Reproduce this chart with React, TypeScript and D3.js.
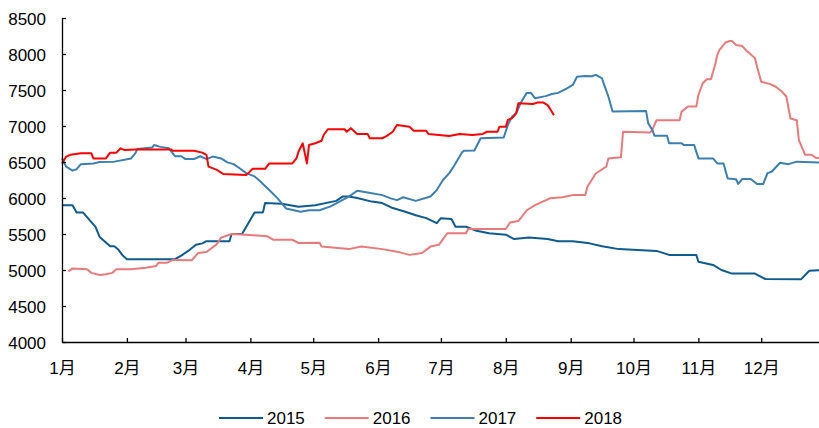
// @ts-nocheck
import React from 'react'
import * as d3 from 'd3'

const monthLabels = ['1月', '2月', '3月', '4月', '5月', '6月', '7月', '8月', '9月', '10月', '11月', '12月']
const yTicks = [4000, 4500, 5000, 5500, 6000, 6500, 7000, 7500, 8000, 8500]
const seriesNames = ['2015', '2016', '2017', '2018']
const seriesColors = ['#0f5b8e', '#e97a7c', '#3c7fb0', '#ff0000']

// [MM-DD, price]
const s2015 = [
  ['01-01', 5900], ['01-06', 5900], ['01-08', 5800], ['01-11', 5800], ['01-14', 5700], ['01-17', 5600],
  ['01-19', 5460], ['01-24', 5330], ['01-26', 5330], ['01-28', 5280], ['01-30', 5200], ['02-01', 5150],
  ['02-24', 5150], ['02-27', 5200], ['03-03', 5280], ['03-06', 5350], ['03-09', 5370], ['03-11', 5400],
  ['03-22', 5400], ['03-23', 5500], ['03-28', 5500], ['03-31', 5650], ['04-03', 5800], ['04-07', 5800],
  ['04-08', 5930], ['04-16', 5920], ['04-24', 5880], ['05-02', 5900], ['05-12', 5960], ['05-15', 6020],
  ['05-18', 6020], ['05-22', 6000], ['05-29', 5950], ['06-03', 5930], ['06-08', 5860], ['06-14', 5810],
  ['06-19', 5760], ['06-24', 5720], ['06-29', 5650], ['07-01', 5720], ['07-06', 5710], ['07-08', 5600],
  ['07-13', 5600], ['07-18', 5545], ['07-24', 5510], ['08-01', 5490], ['08-05', 5430], ['08-12', 5450],
  ['08-21', 5430], ['08-26', 5400], ['09-02', 5400], ['09-10', 5370], ['09-16', 5330], ['09-24', 5290],
  ['10-12', 5265], ['10-18', 5210], ['10-31', 5210], ['11-01', 5115], ['11-08', 5070], ['11-12', 5000],
  ['11-17', 4950], ['11-28', 4950], ['12-03', 4875], ['12-20', 4870], ['12-24', 4990], ['12-31', 5000],
]

const s2016 = [
  ['01-04', 4980], ['01-06', 5020], ['01-13', 5010], ['01-15', 4960], ['01-19', 4930], ['01-22', 4940],
  ['01-25', 4960], ['01-27', 5010], ['02-03', 5010], ['02-10', 5030], ['02-15', 5055], ['02-16', 5100],
  ['02-20', 5100], ['02-23', 5140], ['03-04', 5135], ['03-07', 5235], ['03-11', 5250], ['03-16', 5360],
  ['03-18', 5450], ['03-23', 5500], ['03-30', 5490], ['04-09', 5470], ['04-12', 5420], ['04-21', 5420],
  ['04-24', 5375], ['05-04', 5380], ['05-05', 5325], ['05-18', 5290], ['05-24', 5325], ['06-03', 5290],
  ['06-10', 5255], ['06-16', 5210], ['06-22', 5235], ['06-26', 5325], ['06-30', 5350], ['07-04', 5510],
  ['07-13', 5510], ['07-14', 5570], ['08-01', 5570], ['08-03', 5660], ['08-07', 5680], ['08-11', 5830],
  ['08-15', 5900], ['08-22', 5995], ['08-28', 6010], ['09-02', 6040], ['09-08', 6040], ['09-09', 6160],
  ['09-13', 6340], ['09-18', 6435], ['09-19', 6550], ['09-25', 6565], ['09-26', 6920], ['10-09', 6910],
  ['10-10', 6950], ['10-12', 7080], ['10-23', 7080], ['10-24', 7200], ['10-27', 7270], ['10-31', 7270],
  ['11-01', 7430], ['11-03', 7590], ['11-05', 7650], ['11-07', 7650], ['11-09', 7850], ['11-10', 7985],
  ['11-11', 8055], ['11-14', 8160], ['11-16', 8180], ['11-17', 8180], ['11-19', 8125], ['11-22', 8110],
  ['11-24', 8045], ['11-26', 7995], ['11-28', 7940], ['11-29', 7825], ['12-01', 7615], ['12-05', 7585],
  ['12-08', 7545], ['12-11', 7475], ['12-13', 7410], ['12-15', 7105], ['12-18', 7080], ['12-19', 6805],
  ['12-22', 6600], ['12-25', 6600], ['12-27', 6560], ['12-31', 6550],
]

const s2017 = [
  ['01-01', 6550], ['01-03', 6435], ['01-06', 6380], ['01-08', 6400], ['01-10', 6470], ['01-16', 6480],
  ['01-19', 6500], ['01-26', 6505], ['02-03', 6550], ['02-05', 6620], ['02-06', 6680], ['02-13', 6700],
  ['02-14', 6735], ['02-17', 6710], ['02-21', 6690], ['02-24', 6580], ['02-27', 6580], ['03-01', 6540],
  ['03-05', 6540], ['03-08', 6580], ['03-11', 6540], ['03-14', 6575], ['03-18', 6550], ['03-21', 6495],
  ['03-24', 6470], ['03-27', 6410], ['03-30', 6345], ['04-03', 6300], ['04-05', 6250], ['04-10', 6110],
  ['04-14', 5995], ['04-18', 5855], ['04-25', 5810], ['04-29', 5830], ['05-04', 5830], ['05-09', 5880],
  ['05-12', 5925], ['05-18', 6020], ['05-22', 6100], ['05-27', 6075], ['06-03', 6040], ['06-07', 5995],
  ['06-10', 5970], ['06-13', 6010], ['06-19', 5960], ['06-26', 6020], ['06-29', 6110], ['07-02', 6250],
  ['07-05', 6345], ['07-07', 6435], ['07-09', 6530], ['07-11', 6630], ['07-12', 6657], ['07-17', 6660],
  ['07-20', 6830], ['07-31', 6840], ['08-02', 7015], ['08-04', 7130], ['08-06', 7175], ['08-08', 7315],
  ['08-11', 7460], ['08-13', 7460], ['08-15', 7385], ['08-20', 7415], ['08-23', 7445], ['08-26', 7460],
  ['08-30', 7520], ['09-02', 7570], ['09-04', 7685], ['09-08', 7695], ['09-11', 7690], ['09-13', 7710],
  ['09-16', 7660], ['09-17', 7570], ['09-19', 7410], ['09-21', 7200], ['10-07', 7210], ['10-08', 7040],
  ['10-10', 6945], ['10-11', 6865], ['10-17', 6865], ['10-18', 6760], ['10-24', 6760], ['10-25', 6735],
  ['10-30', 6735], ['11-01', 6550], ['11-08', 6550], ['11-10', 6480], ['11-13', 6480], ['11-15', 6270],
  ['11-19', 6260], ['11-20', 6195], ['11-22', 6265], ['11-26', 6265], ['11-29', 6195], ['12-02', 6195],
  ['12-04', 6345], ['12-06', 6365], ['12-10', 6490], ['12-14', 6470], ['12-18', 6505], ['12-31', 6490],
]

const s2018 = [
  ['01-01', 6480], ['01-03', 6575], ['01-05', 6600], ['01-10', 6620], ['01-15', 6620], ['01-16', 6550],
  ['01-22', 6550], ['01-24', 6630], ['01-27', 6630], ['01-29', 6690], ['01-31', 6665], ['02-05', 6675],
  ['02-22', 6675], ['02-23', 6655], ['03-05', 6655], ['03-09', 6630], ['03-11', 6600], ['03-12', 6435],
  ['03-16', 6390], ['03-19', 6333], ['03-30', 6320], ['03-31', 6345], ['04-02', 6405], ['04-08', 6405],
  ['04-10', 6480], ['04-21', 6480], ['04-23', 6550], ['04-24', 6645], ['04-26', 6760], ['04-27', 6620],
  ['04-28', 6480], ['04-29', 6735], ['05-02', 6760], ['05-05', 6795], ['05-06', 6875], ['05-08', 6955],
  ['05-16', 6955], ['05-17', 6920], ['05-19', 6970], ['05-22', 6890], ['05-27', 6890], ['05-28', 6830],
  ['06-03', 6830], ['06-05', 6860], ['06-08', 6920], ['06-10', 7015], ['06-16', 6990], ['06-18', 6935],
  ['06-24', 6935], ['06-25', 6890], ['06-30', 6875], ['07-05', 6860], ['07-10', 6890], ['07-16', 6875],
  ['07-21', 6890], ['07-23', 6920], ['07-28', 6920], ['07-29', 6990], ['08-01', 6990], ['08-02', 7085],
  ['08-04', 7110], ['08-05', 7140], ['08-06', 7185], ['08-07', 7315], ['08-14', 7305], ['08-16', 7325],
  ['08-19', 7325], ['08-21', 7290], ['08-22', 7245], ['08-24', 7150],
]

const allSeries = [s2015, s2016, s2017, s2018]

const toDate = (md) => {
  const [m, d] = md.split('-').map(Number)
  return new Date(2018, m - 1, d)
}

const App = () => {
  const svgRef = React.useRef(null)
  const width = 819
  const height = 428
  const margin = { left: 62, top: 18, bottomAxis: 342, right: 824 }
  const font = '"Liberation Sans", Arial, "Noto Sans CJK SC", sans-serif'

  React.useEffect(() => {
    const xScale = d3
      .scaleTime()
      .domain([new Date(2018, 0, 1), new Date(2018, 11, 31)])
      .range([margin.left, margin.right])
    const yScale = d3.scaleLinear().domain([4000, 8500]).range([margin.bottomAxis, margin.top])

    const svgEl = d3.select(svgRef.current)
    svgEl.selectAll('*').remove()
    const svg = svgEl.append('g')

    // lines first, axes on top
    const line = d3
      .line()
      .x((d) => xScale(toDate(d[0])))
      .y((d) => yScale(d[1]))

    svg
      .selectAll('.series')
      .data(allSeries)
      .enter()
      .append('path')
      .attr('fill', 'none')
      .attr('stroke', (d, i) => seriesColors[i])
      .attr('stroke-width', 2)
      .attr('stroke-linejoin', 'round')
      .attr('d', (d) => line(d))

    // x axis
    const months = d3.timeMonths(new Date(2018, 0, 1), new Date(2018, 11, 31))
    const xAxis = d3
      .axisBottom(xScale)
      .tickValues(months)
      .tickSize(-4)
      .tickSizeOuter(0)
      .tickPadding(20)
      .tickFormat((d) => monthLabels[d.getMonth()])
    const xg = svg.append('g').attr('transform', `translate(0,${margin.bottomAxis})`).call(xAxis)
    xg.select('.domain').attr('stroke', '#000').attr('stroke-width', 1.3)
    xg.selectAll('line').attr('stroke', '#000').attr('stroke-width', 1.3)
    xg.selectAll('text')
      .attr('fill', '#000')
      .style('font-family', font)
      .style('font-size', '17px')

    // y axis
    const yAxis = d3
      .axisLeft(yScale)
      .tickValues(yTicks)
      .tickFormat(d3.format('d'))
      .tickSize(-4)
      .tickSizeOuter(0)
      .tickPadding(16)
    const yg = svg.append('g').attr('transform', `translate(${margin.left},0)`).call(yAxis)
    yg.select('.domain').attr('stroke', '#000').attr('stroke-width', 1.3)
    yg.selectAll('line').attr('stroke', '#000').attr('stroke-width', 1.3)
    yg.selectAll('text')
      .attr('fill', '#000')
      .attr('dy', '0.4em')
      .style('font-family', font)
      .style('font-size', '17px')

    // legend
    const legendX = d3.scaleBand().domain(seriesNames).range([219, 642])
    const lg = svg
      .selectAll('.legend')
      .data(seriesNames)
      .enter()
      .append('g')
      .attr('transform', (d) => `translate(${legendX(d)},418)`)
    lg.append('line')
      .attr('x1', 0)
      .attr('x2', 44)
      .attr('stroke', (d, i) => seriesColors[i])
      .attr('stroke-width', 2)
    lg.append('text')
      .attr('x', 48)
      .attr('dy', '0.36em')
      .attr('fill', '#000')
      .style('font-family', font)
      .style('font-size', '17px')
      .text((d) => d)
  }, [])

  return (
    <svg
      ref={svgRef}
      width={width}
      height={height}
      style={{ position: 'absolute', left: 0, top: 0, background: '#fff' }}
    />
  )
}

export default App
